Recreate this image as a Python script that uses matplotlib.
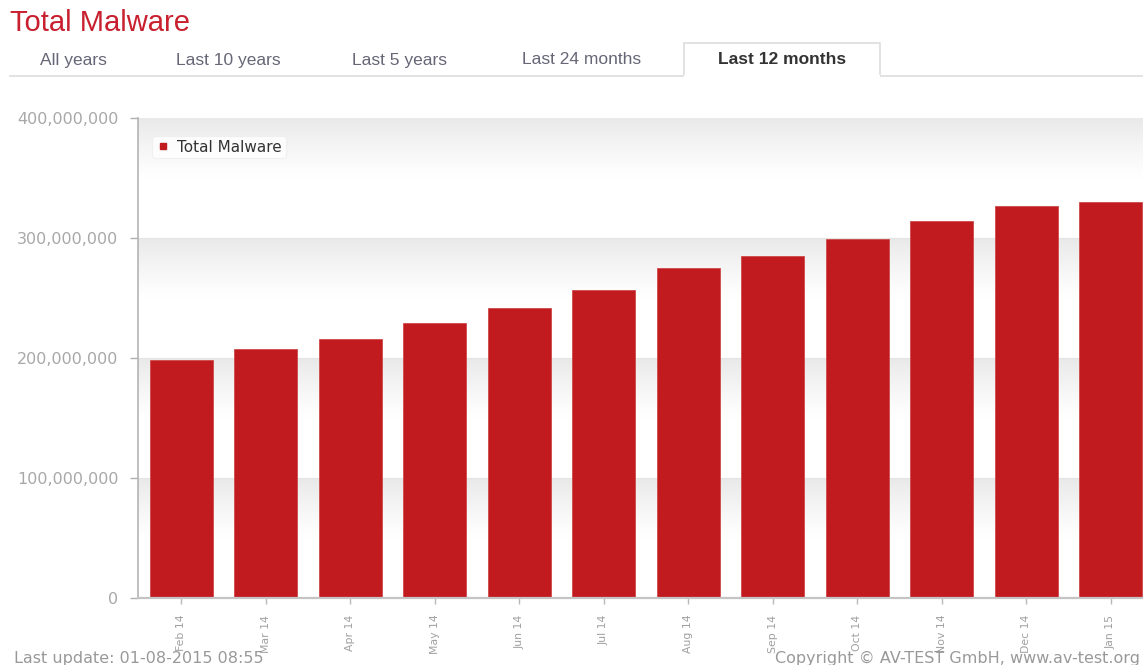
import numpy as np
import matplotlib
matplotlib.use("Agg")
import matplotlib.pyplot as plt
from matplotlib.colors import LinearSegmentedColormap
from matplotlib.lines import Line2D
from matplotlib.patches import Rectangle
from matplotlib.ticker import FuncFormatter

months = ["Feb 14", "Mar 14", "Apr 14", "May 14", "Jun 14", "Jul 14",
          "Aug 14", "Sep 14", "Oct 14", "Nov 14", "Dec 14", "Jan 15"]
total_malware = [198.3e6, 207.5e6, 215.8e6, 229.2e6, 241.7e6, 256.7e6,
                 275.0e6, 285.0e6, 299.2e6, 314.2e6, 326.7e6, 330.0e6]
y_ticks = [0, 100e6, 200e6, 300e6, 400e6]
tabs = ["All years", "Last 10 years", "Last 5 years", "Last 24 months", "Last 12 months"]
tab_x = [73, 228, 400, 582, 782]

W, H = 1143, 665
fig = plt.figure(figsize=(W / 100, H / 100), dpi=100)
fig.patch.set_facecolor("white")

def fx(px):
    return px / W

def fy(py):
    return 1 - py / H

ax = fig.add_axes([fx(138), fy(598), 1 - fx(138), fy(118) - fy(598)])
x = np.arange(len(months))
xlim = (-0.51, 11.38)
ax.set_xlim(*xlim)
ax.set_ylim(0, 400e6)

# gradient bands
cmap = LinearSegmentedColormap.from_list("band", ["#ffffff", "#e9e9e9"])
yy = np.linspace(0, 1, 200)
vals = np.clip((yy - 0.5) / 0.5, 0, 1)[:, None] ** 1.2
for k in range(4):
    ax.imshow(vals, cmap=cmap, vmin=0, vmax=1, aspect="auto", origin="lower",
              extent=(xlim[0], xlim[1], k * 100e6, (k + 1) * 100e6), zorder=0,
              interpolation="bilinear")
for t in y_ticks[1:4]:
    ax.axhline(t, color="#e4e4e4", lw=0.8, zorder=0.5)

bars = ax.bar(x, total_malware, width=0.745, color="#c21b1f",
              edgecolor="#cf4a4a", linewidth=0.6, zorder=2, label="Total Malware")

ax.set_xticks(x)
ax.set_xticklabels(months, rotation=90, fontsize=7.8, color="#a0a0a0")
ax.set_yticks(y_ticks)
ax.yaxis.set_major_formatter(FuncFormatter(lambda v, p: f"{int(v):,}"))
ax.tick_params(axis="y", direction="out", length=6, width=1, color="#b0b0b0",
               labelsize=11.5, labelcolor="#a8a8a8", pad=8)
ax.tick_params(axis="x", direction="out", length=4, width=1, color="#b8b8b8", pad=8)

for s in ["top", "right"]:
    ax.spines[s].set_visible(False)
ax.spines["left"].set_color("#b4b4b4")
ax.spines["left"].set_linewidth(1.2)
ax.spines["bottom"].set_color("#c4c4c4")
ax.spines["bottom"].set_linewidth(1.6)

handle = Line2D([], [], marker="s", markersize=4, color="#c21b1f", linestyle="none")
leg = ax.legend([handle], ["Total Malware"], loc="upper left",
                bbox_to_anchor=(0.014, 0.963), fontsize=11, frameon=True,
                fancybox=True, handlelength=0.9, handletextpad=0.5,
                borderpad=0.25, borderaxespad=0)
leg.get_frame().set_edgecolor("#eeeeee")
leg.get_frame().set_facecolor("white")
leg.get_frame().set_linewidth(0.8)
for t in leg.get_texts():
    t.set_color("#333333")

# title and tabs
fig.text(fx(10), fy(23), "Total Malware", fontsize=21, color="#c8202f",
         family="Liberation Sans", ha="left", va="center")
fig.add_artist(Line2D([fx(10), 1], [fy(76), fy(76)], color="#dddddd", lw=1.2))
fig.add_artist(Rectangle((fx(684), fy(76)), fx(880) - fx(684), fy(43) - fy(76),
                         facecolor="white", edgecolor="#dddddd", lw=1.2))
fig.add_artist(Line2D([fx(685), fx(879)], [fy(76), fy(76)], color="white", lw=1.6))
for i, (tab, tx) in enumerate(zip(tabs, tab_x)):
    active = i == len(tabs) - 1
    fig.text(fx(tx), fy(60), tab, fontsize=12.5, family="Liberation Sans",
             fontweight="bold" if active else "normal",
             color="#333333" if active else "#666677", ha="center", va="center")

fig.text(fx(14), fy(658), "Last update: 01-08-2015 08:55", fontsize=11.5,
         color="#999999", ha="left", va="center")
fig.text(fx(1140), fy(658), "Copyright © AV-TEST GmbH, www.av-test.org", fontsize=11.5,
         color="#999999", ha="right", va="center")

fig.savefig("out.png", dpi=100, facecolor="white")
